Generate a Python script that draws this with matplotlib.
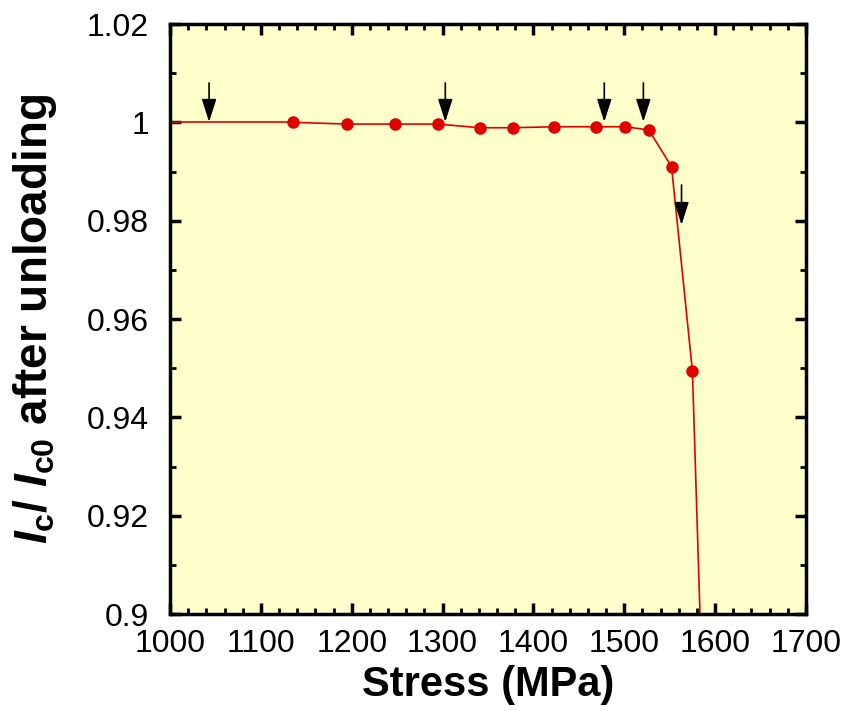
import matplotlib
matplotlib.use("Agg")
import matplotlib.pyplot as plt
from matplotlib.ticker import MultipleLocator

# measured points (stress in MPa, Ic/Ic0 after unloading)
stress = [1135, 1195, 1248, 1295, 1341, 1377, 1423, 1469, 1501, 1527, 1552, 1575, 1585]
ratio = [1.0, 0.99965, 0.99965, 0.99965, 0.9989, 0.9989, 0.9991, 0.9991, 0.9991, 0.99845, 0.991, 0.9494, 0.89]

# baseline segment from the left edge
start_stress = [1000, 1135]
start_ratio = [1.0, 1.0]

# arrows: x position, tail y, tip y
arrow_x = [1043, 1303, 1478, 1521, 1563]
arrow_tail = [1.0080, 1.0080, 1.0080, 1.0080, 0.98725]
arrow_tip = [1.0001, 1.0001, 1.0001, 1.0001, 0.97915]

plt.rcParams['mathtext.fontset'] = 'custom'
plt.rcParams['mathtext.rm'] = 'Liberation Sans:bold'
plt.rcParams['mathtext.bf'] = 'Liberation Sans:bold'
plt.rcParams['mathtext.it'] = 'Liberation Sans:bold:italic'
plt.rcParams['font.family'] = 'Liberation Sans'

fig = plt.figure(figsize=(8.47, 7.11), dpi=100)
ax = fig.add_axes([170/847, 97/711, 636/847, 590/711])
ax.set_facecolor('#FFFFCC')

red = '#E00000'
ax.plot(start_stress, start_ratio, color=red, lw=1.2)
ax.plot(stress, ratio, color=red, lw=1.2, marker='o', ms=8, mec=red, mfc=red)

for x, t0, t1 in zip(arrow_x, arrow_tail, arrow_tip):
    ax.annotate('', xy=(x, t1), xytext=(x, t0),
                arrowprops=dict(arrowstyle='-|>,head_length=1.4,head_width=0.45',
                                mutation_scale=10, color='black', lw=1.2,
                                shrinkA=0, shrinkB=0))

ax.set_xlim(1000, 1700)
ax.set_ylim(0.9, 1.02)
ax.xaxis.set_major_locator(MultipleLocator(100))
ax.xaxis.set_minor_locator(MultipleLocator(20))
ax.yaxis.set_minor_locator(MultipleLocator(0.01))
ax.set_yticks([0.9, 0.92, 0.94, 0.96, 0.98, 1.0, 1.02])
ax.set_yticklabels(['0.9', '0.92', '0.94', '0.96', '0.98', '1', '1.02'])

ax.tick_params(which='both', direction='in', top=True, right=True)
ax.tick_params(which='major', length=8, width=2.5)
ax.tick_params(which='minor', length=4, width=2)
ax.tick_params(axis='x', which='major', pad=11, labelsize=23)
ax.tick_params(axis='y', which='major', pad=15, labelsize=23)
for s in ax.spines.values():
    s.set_linewidth(2.5)

ax.set_xlabel('Stress (MPa)', fontsize=30, fontweight='bold', labelpad=4)
ax.set_ylabel(r'$I_{\rm c}$/ $I_{\rm c0}$ after unloading',
              fontsize=33, fontweight='bold', labelpad=20)

fig.savefig('out.png', dpi=100)
